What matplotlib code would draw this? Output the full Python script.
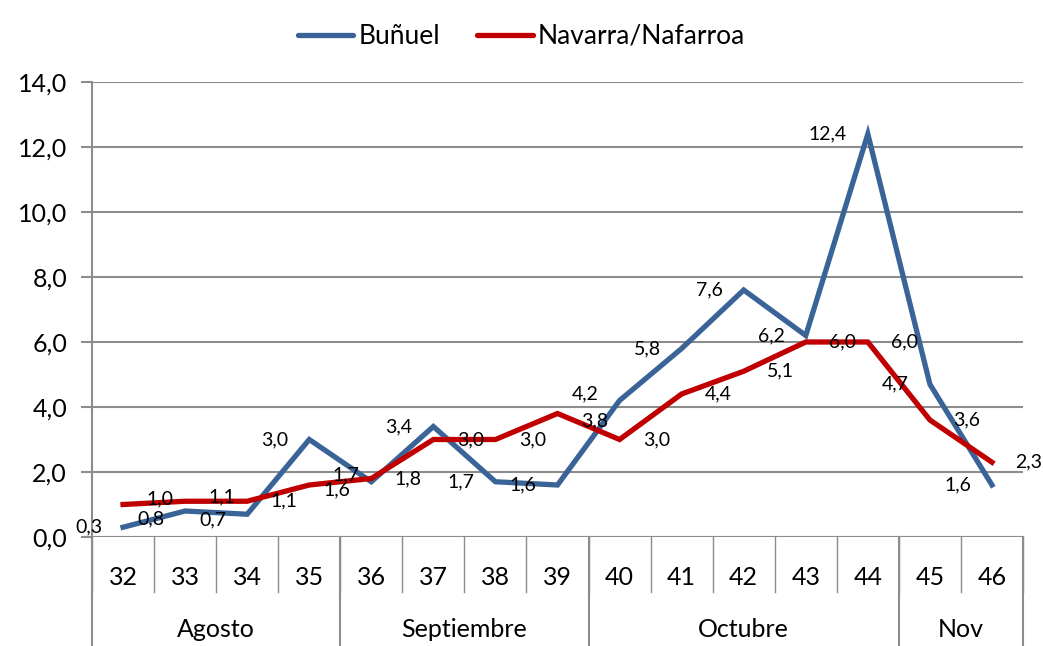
import matplotlib.pyplot as plt
import numpy as np

# Datos: semanas, meses y tasas
semanas = ['32', '33', '34', '35', '36', '37', '38', '39', '40', '41', '42', '43', '44', '45', '46']
meses = ['Agosto', 'Septiembre', 'Octubre', 'Nov']
semanas_por_mes = [4, 4, 5, 2]
bunuel = [0.3, 0.8, 0.7, 3.0, 1.7, 3.4, 1.7, 1.6, 4.2, 5.8, 7.6, 6.2, 12.4, 4.7, 1.6]
navarra = [1.0, 1.1, 1.1, 1.6, 1.8, 3.0, 3.0, 3.8, 3.0, 4.4, 5.1, 6.0, 6.0, 3.6, 2.3]
etiquetas_bunuel = ['0,3', '0,8', '0,7', '3,0', '1,6', '3,4', '1,7', '1,6', '4,2', '5,8', '7,6', '6,2', '12,4', '4,7', '1,6']
etiquetas_navarra = ['1,0', '1,1', '1,1', '1,7', '1,8', '3,0', '3,0', '3,8', '3,0', '4,4', '5,1', '6,0', '6,0', '3,6', '2,3']

plt.rcParams['font.family'] = ['Lato', 'DejaVu Sans']

azul = '#3a6497'
rojo = '#c00000'
gris = '#8c8c8c'

# pequeños desplazamientos verticales (puntos) para que no se pisen las etiquetas
ajuste_azul = {1: -6, 2: -4, 4: -6, 8: 5}
ajuste_rojo = {0: 4, 1: 3, 3: 7, 7: -5}

fig = plt.figure(figsize=(10.43, 6.46), dpi=100)
ax = fig.add_axes([92 / 1043, 109 / 646, 931 / 1043, 455 / 646])

x = np.arange(len(semanas))
ax.plot(x, bunuel, color=azul, lw=3.8, label='Buñuel', solid_joinstyle='miter')
ax.plot(x, navarra, color=rojo, lw=3.8, label='Navarra/Nafarroa', solid_joinstyle='miter')

# Etiquetas de datos
for i in range(len(x)):
    ax.annotate(etiquetas_bunuel[i], (x[i], bunuel[i]), textcoords='offset points',
                xytext=(-15, ajuste_azul.get(i, 0)), ha='right', va='center', fontsize=14)
    ax.annotate(etiquetas_navarra[i], (x[i], navarra[i]), textcoords='offset points',
                xytext=(17, ajuste_rojo.get(i, 0)), ha='left', va='center', fontsize=14)

ax.set_xlim(-0.5, len(x) - 0.5)
ax.set_ylim(0, 14)
ax.set_yticks(np.arange(0, 15, 2))
ax.set_yticklabels([f'{v:.1f}'.replace('.', ',') for v in np.arange(0, 15, 2)], fontsize=18)
ax.yaxis.grid(True, color=gris, lw=1.5)
ax.set_axisbelow(True)
ax.set_xticks([])
ax.tick_params(axis='y', length=8, color=gris, width=1.5, pad=10)
for s in ['top', 'right', 'bottom']:
    ax.spines[s].set_visible(False)
ax.spines['left'].set_color(gris)
ax.spines['left'].set_linewidth(1.5)
ax.axhline(0, color=gris, lw=1.5, zorder=1)

# Eje de categorias jerarquico
trans = ax.get_xaxis_transform()
for i, s in enumerate(semanas):
    ax.text(i, -0.09, s, transform=trans, ha='center', va='center', fontsize=18)
for b in np.arange(-0.5, len(x), 1.0):
    ax.plot([b, b], [0, -0.121], transform=trans, color=gris, lw=1.0, clip_on=False)
inicio = 0
for m, n in zip(meses, semanas_por_mes):
    ax.text(inicio + (n - 1) / 2, -0.204, m, transform=trans, ha='center', va='center', fontsize=18)
    inicio += n
limites = [-0.5] + list(np.cumsum(semanas_por_mes) - 0.5)
for b in limites:
    ax.plot([b, b], [0, -0.237], transform=trans, color=gris, lw=1.5, clip_on=False)

leg = fig.legend(loc='upper center', bbox_to_anchor=(0.5, 1.0), ncol=2, frameon=False,
                 fontsize=19, handlelength=2.1, handletextpad=0.2, columnspacing=1.4)
for h in leg.legend_handles:
    h.set_solid_capstyle('round')

plt.savefig('out.png', dpi=100)
